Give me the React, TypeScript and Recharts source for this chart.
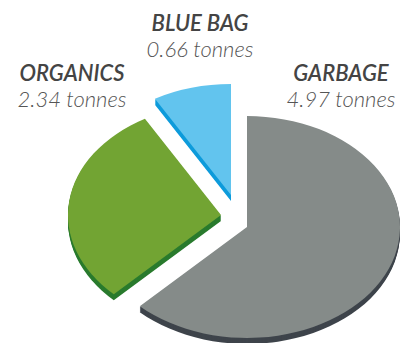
import { PieChart, Pie } from "recharts";

const categories = ["GARBAGE", "ORGANICS", "BLUE BAG"];
const tonnes = [4.97, 2.34, 0.66];
const units = "tonnes";

const data = categories.map((name, i) => ({ name, value: tonnes[i] }));

// look of each slice (top face, side face, how far it is pulled out)
const TOP = ["#858b89", "#72a433", "#62c4ee"];
const SIDE = ["#3e444b", "#2a7b2e", "#0d9bdb"];
const SHIFT = [
  [0, 0],
  [-26, -12],
  [-16, -32],
];
const LABEL_AT = [
  [341, 81],
  [72, 81],
  [200, 31],
];

const SQUASH = 0.725;
const DEPTH = 6;

function slicePath(cx: number, cy: number, rx: number, ry: number, a0: number, a1: number) {
  const r = Math.PI / 180;
  const x0 = cx + rx * Math.cos(a0 * r);
  const y0 = cy - ry * Math.sin(a0 * r);
  const x1 = cx + rx * Math.cos(a1 * r);
  const y1 = cy - ry * Math.sin(a1 * r);
  const large = Math.abs(a0 - a1) > 180 ? 1 : 0;
  const sweep = a1 < a0 ? 1 : 0;
  return `M${cx},${cy} L${x0},${y0} A${rx},${ry} 0 ${large} ${sweep} ${x1},${y1} Z`;
}

function Slice3D(props: any) {
  const { cx, cy, outerRadius, startAngle, endAngle, index } = props;
  const [dx, dy] = SHIFT[index] || [0, 0];
  const x = cx + dx;
  const y = cy + dy;
  const rx = outerRadius;
  const ry = outerRadius * SQUASH;
  const layers = [];
  for (let t = DEPTH; t >= 1; t--) {
    layers.push(
      <path key={t} d={slicePath(x, y + t, rx, ry, startAngle, endAngle)} fill={SIDE[index]} />
    );
  }
  return (
    <g>
      {layers}
      <path d={slicePath(x, y, rx, ry, startAngle, endAngle)} fill={TOP[index]} />
    </g>
  );
}

function SliceLabel(props: any) {
  const { index, name, value } = props;
  const [x, y] = LABEL_AT[index];
  return (
    <g>
      <text
        x={x}
        y={y}
        textAnchor="middle"
        fontFamily="Lato"
        fontStyle="italic"
        fontWeight={600}
        fontSize={22}
        fill="#444"
      >
        {name}
      </text>
      <text
        x={x}
        y={y + 26}
        textAnchor="middle"
        fontFamily="Lato"
        fontStyle="italic"
        fontWeight={300}
        fontSize={22}
        fill="#555"
      >
        {value.toFixed(2)} {units}
      </text>
    </g>
  );
}

export default function App() {
  return (
    <div style={{ position: "absolute", left: 0, top: 0, background: "#fff" }}>
      <PieChart width={400} height={343} margin={{ top: 0, right: 0, bottom: 0, left: 0 }}>
        <Pie
          data={data}
          dataKey="value"
          nameKey="name"
          cx={247}
          cy={227}
          outerRadius={153}
          startAngle={90}
          endAngle={-270}
          stroke="none"
          shape={Slice3D}
          label={SliceLabel}
          labelLine={false}
          isAnimationActive={false}
        />
      </PieChart>
    </div>
  );
}
